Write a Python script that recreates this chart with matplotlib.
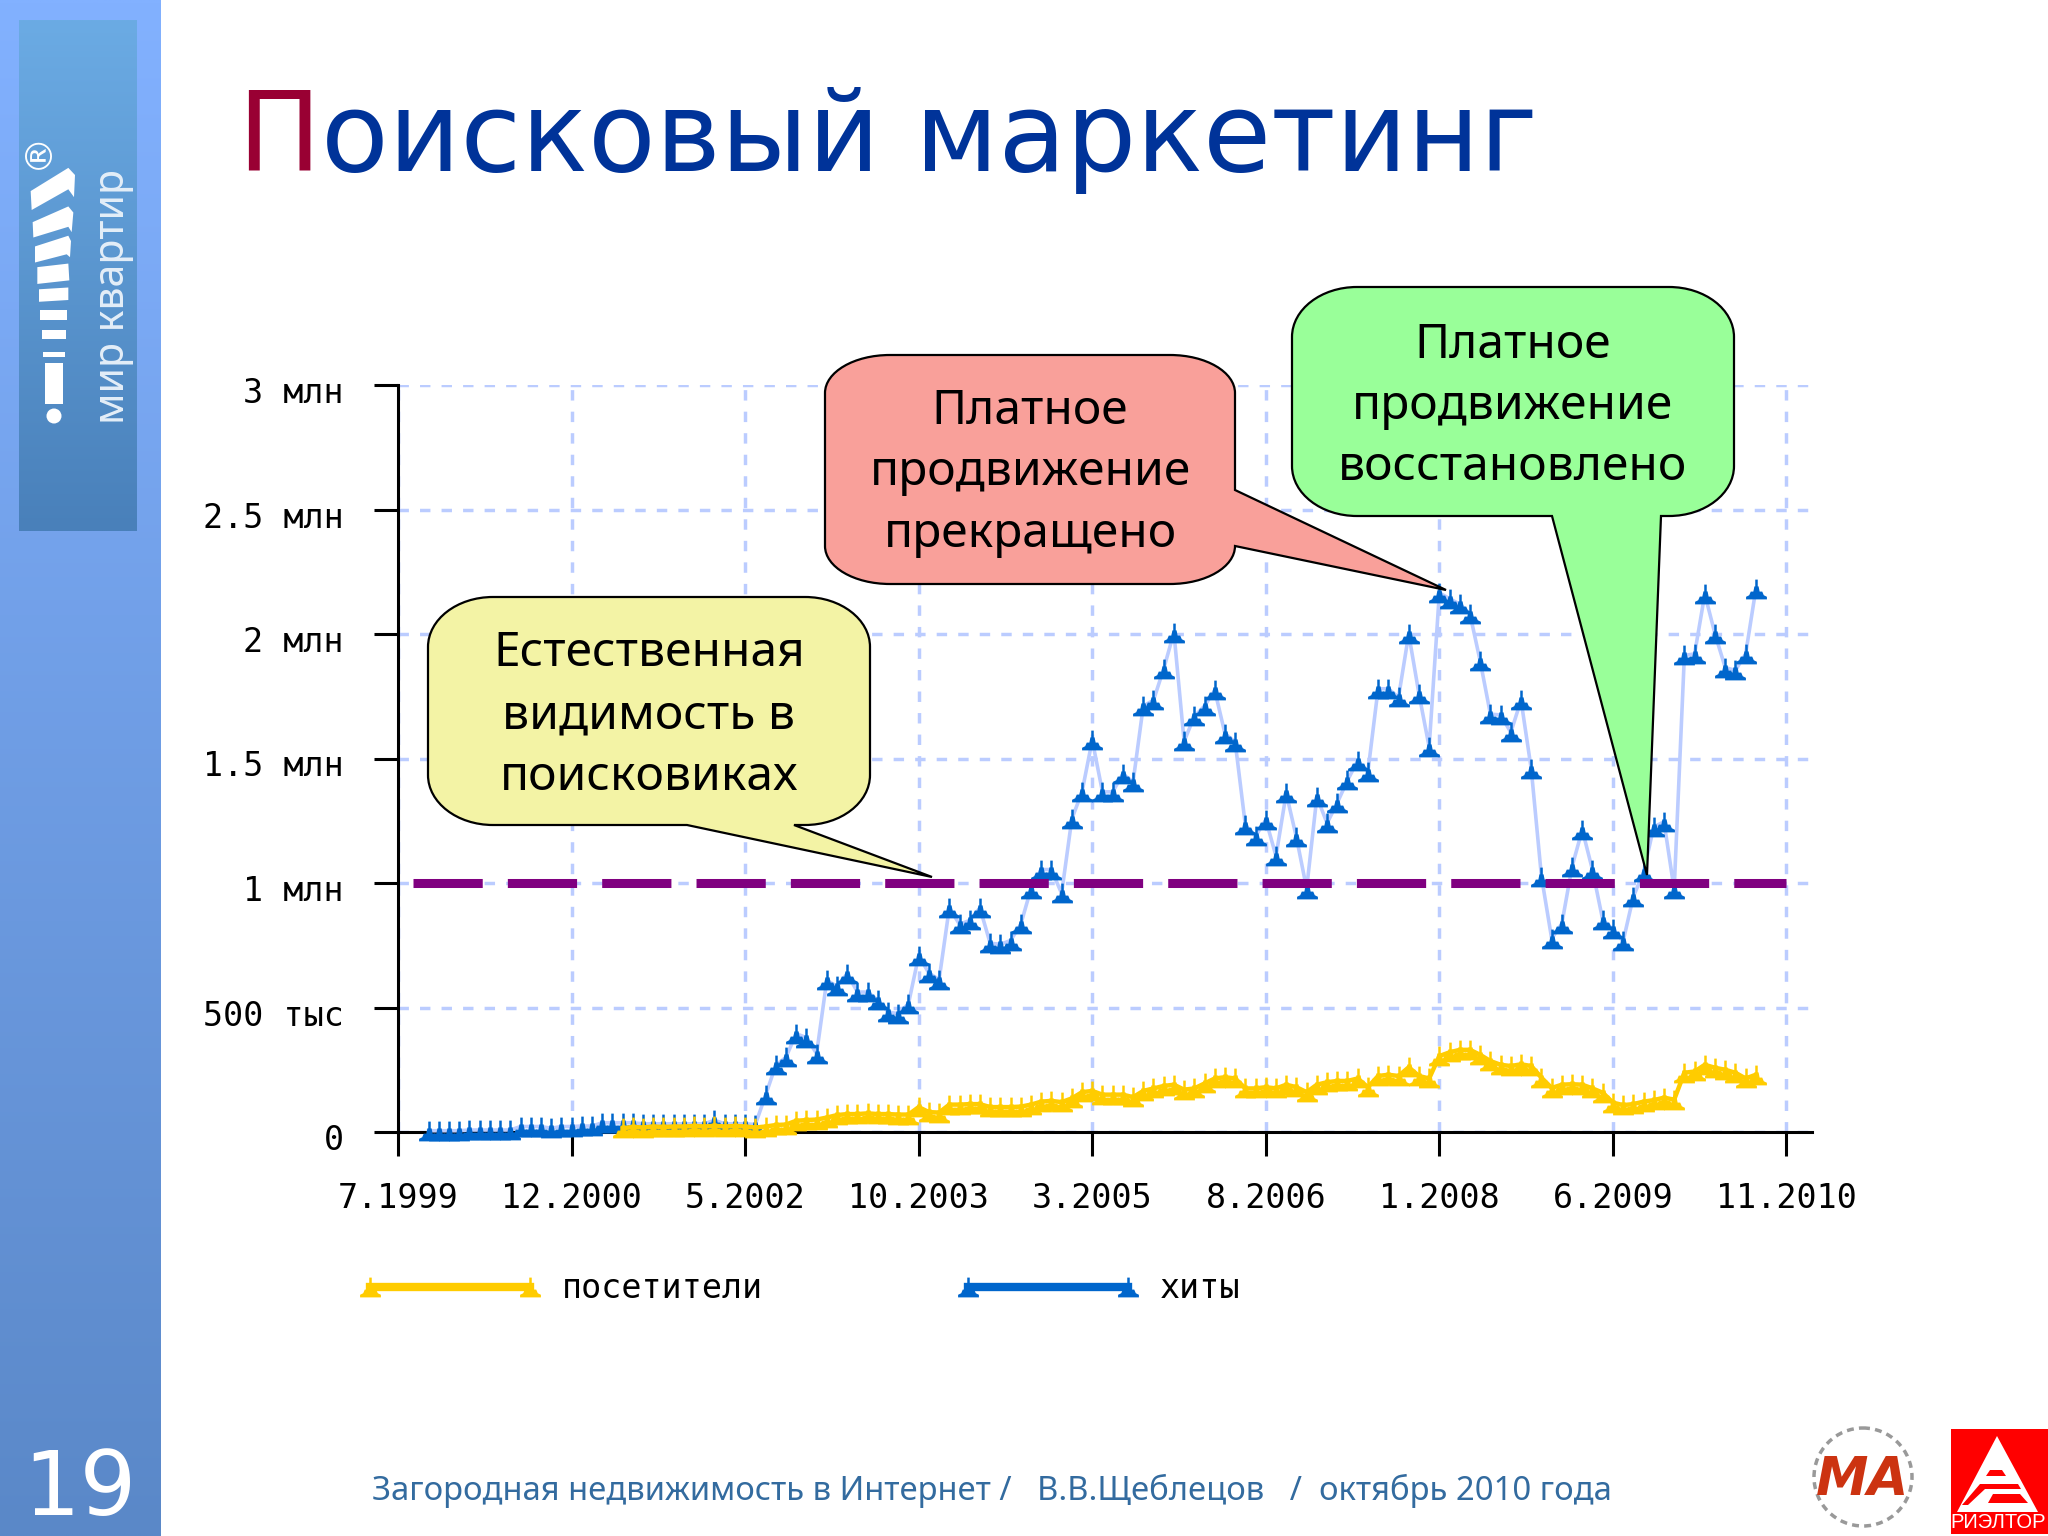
import numpy as np
import matplotlib
matplotlib.use("Agg")
import matplotlib.pyplot as plt
from matplotlib.path import Path
from matplotlib.patches import PathPatch, Polygon, Circle, Rectangle
from matplotlib.lines import Line2D
from matplotlib.transforms import ScaledTranslation

# ---------- data (thousands, monthly) ----------
tick_labels_x = ["7.1999", "12.2000", "5.2002", "10.2003", "3.2005", "8.2006", "1.2008", "6.2009", "11.2010"]
tick_months = [0, 17, 34, 51, 68, 85, 102, 119, 136]
tick_labels_y = ["0", "500 тыс", "1 млн", "1.5 млн", "2 млн", "2.5 млн", "3 млн"]
tick_values_y = [0, 500, 1000, 1500, 2000, 2500, 3000]

hits_start = 3
hits = [5, 5, 5, 5, 8, 8, 8, 8, 8, 22, 22, 22, 15, 22, 22, 24, 24, 37, 37, 37, 37, 33, 33, 33, 33, 33,
        33, 33, 47, 33, 33, 33, 30,
        147, 268, 300, 395, 379, 315, 609, 585, 636, 562, 562, 529, 482, 475, 515,
        708, 638, 612, 900, 834, 850, 900, 758, 754, 769, 834, 977, 1054, 1054, 958,
        1257, 1366, 1574, 1366, 1366, 1438, 1406, 1711, 1734, 1860, 2006, 1569, 1669,
        1711, 1774, 1600, 1566, 1232, 1188, 1254, 1108, 1360, 1183, 977, 1346, 1240,
        1322, 1412, 1491, 1446, 1780, 1780, 1746, 2000, 1760, 1546, 2165, 2142, 2120,
        2080, 1891, 1678, 1675, 1605, 1734, 1458, 1026, 777, 837, 1066, 1214, 1052,
        852, 814, 766, 945, 1043, 1225, 1246, 974, 1914, 1920, 2160, 2000, 1865, 1854,
        1920, 2180]

visitors_start = 22
visitors = [15, 20, 18, 22, 20, 22, 22, 24, 22, 25, 22, 24, 22, 18, 22, 28, 30, 45, 48, 50, 58, 68,
            72, 72, 75, 72, 72, 70, 70, 100, 80, 78, 110, 110, 112, 112, 100, 100, 100, 102,
            110, 122, 125, 120, 135, 160, 165, 150, 150, 150, 140, 165, 175, 185, 190, 170,
            175, 195, 215, 220, 215, 175, 175, 180, 175, 190, 180, 160, 190, 200, 205, 205,
            215, 180, 225, 230, 225, 260, 225, 215, 305, 320, 330, 330, 310, 285, 270, 265,
            272, 265, 218, 177, 190, 192, 190, 175, 158, 118, 108, 112, 122, 128, 138, 130,
            238, 243, 270, 258, 250, 238, 215, 230]

threshold = 1000
series_labels = ["посетители", "хиты"]
title_first, title_rest = "П", "оисковый маркетинг"
footer = "Загородная недвижимость в Интернет /   В.В.Щеблецов   /  октябрь 2010 года"
callout_yellow = "Естественная\nвидимость в\nпоисковиках"
callout_red = "Платное\nпродвижение\nпрекращено"
callout_green = "Платное\nпродвижение\nвосстановлено"

W, H = 2048, 1536
fig = plt.figure(figsize=(W / 100, H / 100), dpi=100, facecolor="white")

BLUE = "#0066CC"
YEL = "#FFCC00"
GRID = "#BBCCFF"
MONO = "DejaVu Sans Mono"
SANS = "Noto Sans"

# ---------- background layer in pixel coordinates ----------
bg = fig.add_axes([0, 0, 1, 1], zorder=0)
bg.set_xlim(0, W); bg.set_ylim(H, 0); bg.axis("off")


def vgrad(ax, x0, x1, y0, y1, c0, c1):
    c0 = np.array(matplotlib.colors.to_rgb(c0)); c1 = np.array(matplotlib.colors.to_rgb(c1))
    t = np.linspace(0, 1, 256)[:, None, None]
    img = c0[None, None, :] * (1 - t) + c1[None, None, :] * t
    ax.imshow(img, extent=(x0, x1, y1, y0), aspect="auto", interpolation="bilinear", zorder=1)


vgrad(bg, 0, 161, 0, H, "#82B1FF", "#5A88C8")
vgrad(bg, 19, 137, 20, 531, "#6BABE4", "#4980BA")
bg.set_xlim(0, W); bg.set_ylim(H, 0)

# logo: exclamation mark made of stripes
stripes = [
    [(92, 535), (205, 470), (225, 490), (222, 552), (205, 530), (95, 588)],
    [(98, 622), (205, 578), (220, 595), (215, 650), (205, 635), (100, 665)],
    [(105, 690), (205, 660), (213, 675), (210, 720), (200, 712), (105, 735)],
    [(112, 748), (205, 738), (208, 785), (112, 795)],
    [(117, 810), (205, 805), (205, 840), (117, 845)],
    [(120, 868), (200, 868), (200, 895), (120, 895)],
    [(125, 925), (198, 925), (198, 950), (125, 950)],
    [(128, 985), (195, 985), (195, 1000), (128, 1000)],
    [(135, 1015), (188, 1015), (188, 1130), (135, 1130)],
]
for s in stripes:
    bg.add_patch(Polygon([(x / 3, y / 2.8) for x, y in s], closed=True, fc="white", ec="none", zorder=3))
bg.add_patch(Circle((54, 416), 7.5, fc="white", ec="none", zorder=3))
bg.text(38, 150, "®", color="white", fontsize=27, family="DejaVu Sans", rotation=90, ha="center", va="center", zorder=3)
bg.text(113, 296, "мир квартир", color="#E4EEF8", fontsize=29.5, family=SANS, rotation=90, ha="center", va="center", zorder=3)
bg.text(80, 1490, "19", color="white", fontsize=64, family="DejaVu Sans", ha="center", va="center", zorder=3)

# title
t1 = bg.text(237, 171, title_first, color="#990033", fontsize=79.7, family="DejaVu Sans", ha="left", va="baseline", zorder=3)
fig.canvas.draw()
ext = t1.get_window_extent(fig.canvas.get_renderer())
bg.text(ext.x1 + 1, 171, title_rest, color="#003399", fontsize=79.7, family="DejaVu Sans", ha="left", va="baseline", zorder=3)

# footer
bg.text(372, 1491, footer, color="#336B9F", fontsize=23.6, family=SANS, ha="left", va="center", zorder=3)

# bottom-right logos
bg.add_patch(Circle((1863, 1477), 49, fc="none", ec="#999999", lw=2.5, ls=(0, (2, 1.5)), zorder=3))
bg.text(1863, 1480, "МА", color="#CC3311", fontsize=38, family="DejaVu Sans", style="italic", weight="bold",
        ha="center", va="center", zorder=4)
bg.add_patch(Rectangle((1951, 1429), 97, 105, fc="#FF0000", ec="none", zorder=3))
bg.add_patch(Polygon([(1997, 1436), (1957, 1512), (2038, 1512)], closed=True, fc="white", ec="none", zorder=4))
for pts in ([(1990, 1470), (2002, 1470), (2006, 1476), (1986, 1476)],
            [(1980, 1484), (2018, 1484), (2021, 1489), (1985, 1489), (1968, 1505), (1962, 1505)],
            [(1993, 1494), (2020, 1494), (2028, 1503), (1988, 1503)]):
    bg.add_patch(Polygon(pts, closed=True, fc="#FF0000", ec="none", zorder=5))
bg.text(1998, 1523, "РИЭЛТОР", color="white", fontsize=14.5, family="Liberation Sans", ha="center", va="center", zorder=5)

# ---------- chart ----------
L, R, B, T = 398, 1812, 1132, 385
ax = fig.add_axes([L / W, 1 - B / H, (R - L) / W, (B - T) / H], zorder=2)
ax.patch.set_alpha(0)
ax.set_xlim(0, 138.5)
ax.set_ylim(0, 3000)
for s in ("top", "right"):
    ax.spines[s].set_visible(False)
for s in ("left", "bottom"):
    ax.spines[s].set_linewidth(2.2)
ax.set_xticks(tick_months)
ax.set_xticklabels(tick_labels_x, family=MONO, fontsize=24)
ax.set_yticks(tick_values_y)
ax.set_yticklabels(tick_labels_y, family=MONO, fontsize=24)
ax.tick_params(axis="both", length=17, width=2.2, color="black")
ax.tick_params(axis="x", pad=19)
ax.tick_params(axis="y", pad=22)
ax.grid(True, color=GRID, lw=2.5, ls=(0, (3, 3.2)), zorder=1)
ax.set_axisbelow(True)
down = ScaledTranslation(0, -3.6 / 72, fig.dpi_scale_trans)
for lab in ax.get_yticklabels():
    lab.set_transform(lab.get_transform() + down)

mv = [(-1, -0.95), (1, -0.95), (1, -0.7), (0.7, -0.55), (0.55, -0.2), (0.3, -0.2), (0.2, 0.3), (0.12, 0.3),
      (0.12, 0.95), (-0.12, 0.95), (-0.12, 0.3), (-0.2, 0.3), (-0.3, -0.2), (-0.55, -0.2), (-0.7, -0.55),
      (-1, -0.7), (-1, -0.95)]
marker = Path(mv, closed=True)

hx = np.arange(hits_start, hits_start + len(hits))
vx = np.arange(visitors_start, visitors_start + len(visitors))
ax.plot(hx, hits, color=GRID, lw=2.6, marker=marker, ms=15, mfc=BLUE, mec="none", clip_on=False, zorder=4)
ax.plot(vx, visitors, color=YEL, lw=3.2, marker=marker, ms=15, mfc=YEL, mec="none", clip_on=False, zorder=5)
ax.plot([1.5, 136], [threshold, threshold], color="#800080", lw=6.5, dashes=(7.67, 2.78),
        dash_capstyle="butt", zorder=6)

handles = [Line2D([], [], color=YEL, lw=6, marker=marker, ms=15, mfc=YEL, mec="none"),
           Line2D([], [], color=BLUE, lw=6, marker=marker, ms=15, mfc=BLUE, mec="none")]
ax.legend(handles, series_labels, ncol=2, frameon=False, numpoints=2, loc="center left",
          bbox_to_anchor=(360 / W, 1 - 1289 / H), bbox_transform=fig.transFigure,
          prop={"family": MONO, "size": 24}, handlelength=5.4, handletextpad=0.65,
          columnspacing=5.85, borderpad=0, borderaxespad=0)

# ---------- callouts ----------
fg = fig.add_axes([0, 0, 1, 1], zorder=3)
fg.set_xlim(0, W); fg.set_ylim(H, 0); fg.axis("off"); fg.patch.set_alpha(0)


def callout(x0, y0, x1, y1, pts, side, fc, rx=65, ry=50):
    k = 0.5523
    V, C = [(x0 + rx, y0)], [Path.MOVETO]

    def line(p):
        V.append(p); C.append(Path.LINETO)

    def curve(a, b, c):
        V.extend([a, b, c]); C.extend([Path.CURVE4] * 3)

    line((x1 - rx, y0))
    curve((x1 - rx + k * rx, y0), (x1, y0 + ry - k * ry), (x1, y0 + ry))
    if side == "right":
        for p in pts:
            line(p)
    line((x1, y1 - ry))
    curve((x1, y1 - ry + k * ry), (x1 - rx + k * rx, y1), (x1 - rx, y1))
    if side == "bottom":
        for p in pts:
            line(p)
    line((x0 + rx, y1))
    curve((x0 + rx - k * rx, y1), (x0, y1 - ry + k * ry), (x0, y1 - ry))
    line((x0, y0 + ry))
    curve((x0, y0 + ry - k * ry), (x0 + rx - k * rx, y0), (x0 + rx, y0))
    V.append((x0 + rx, y0)); C.append(Path.CLOSEPOLY)
    fg.add_patch(PathPatch(Path(V, C), fc=fc, ec="black", lw=1.6, joinstyle="miter", zorder=2))


callout(428, 597, 870, 825, [(794, 825), (932, 877), (687, 825)], "bottom", "#F3F3A5")
callout(825, 355, 1235, 584, [(1235, 490), (1446, 590), (1235, 546)], "right", "#F9A09A", ry=38)
callout(1292, 287, 1734, 516, [(1661, 516), (1647, 875), (1552, 516)], "bottom", "#99FF99")


def ctext(xc, ys, s):
    for y, line in zip(ys, s.split("\n")):
        fg.text(xc, y, line, color="black", fontsize=34.5, family=SANS, ha="center", va="center", zorder=3)


ctext(649, (654, 716, 777), callout_yellow)
ctext(1030, (412, 473, 534), callout_red)
ctext(1513, (345, 406, 468), callout_green)

fig.savefig("out.png", dpi=100, facecolor="white")
